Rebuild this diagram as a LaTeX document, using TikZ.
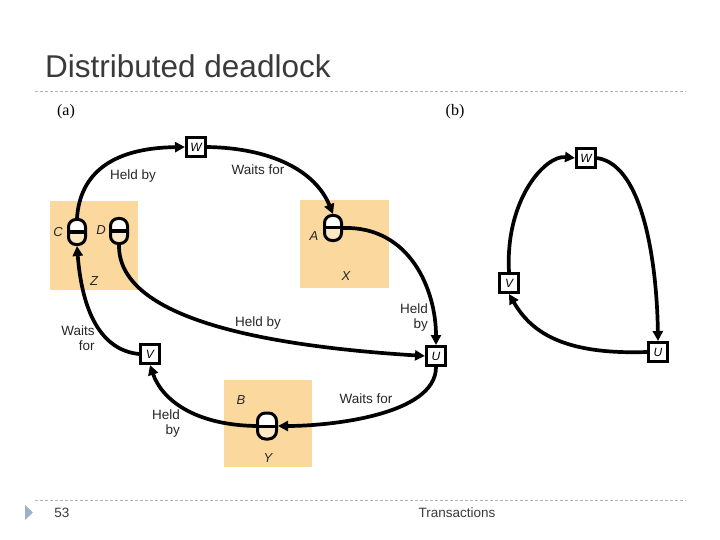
\documentclass[tikz,border=0pt]{standalone}
\usepackage{fontspec}
\setmainfont{Liberation Sans}
\newfontfamily\serifface{Liberation Serif}
\usetikzlibrary{arrows.meta}
\definecolor{boxc}{HTML}{FBD99E}
\definecolor{dashc}{HTML}{B4B4B4}
\definecolor{titlec}{HTML}{3A3A3A}
\definecolor{bulletc}{HTML}{9FB1C9}
\begin{document}
\begin{tikzpicture}[x=1pt,y=-1pt,
  tbox/.style={draw, line width=3pt, fill=white, minimum width=19pt, minimum height=19pt, inner sep=0pt, font=\fontsize{12}{12}\selectfont\itshape},
  lockn/.style={draw, line width=3pt, fill=white, minimum width=17pt, minimum height=25pt, inner sep=0pt, rounded corners=7.5pt,
     path picture={\fill[boxc!60!white] (path picture bounding box.west) rectangle (path picture bounding box.south east);}},
  lbl/.style={font=\fontsize{13.5}{15}\selectfont, text=black!85, inner sep=1pt},
  ital/.style={font=\fontsize{13}{13}\selectfont\itshape, text=black!85, inner sep=1pt},
  conn/.style={line width=3.7pt, -{Triangle[length=10pt,width=10pt]}},
  hdash/.style={dashc, line width=0.8pt, dash pattern=on 3pt off 2pt}]
\useasboundingbox (0,0) rectangle (720,540);
% title
\node[anchor=base west, inner sep=0pt, text=titlec, font=\fontsize{31.5}{32}\selectfont] (title) at (45,78) {Distributed deadlock};
\draw[hdash] (35,91) -- (686,91);
\node[font=\serifface\fontsize{16}{16}\selectfont] (pa) at (66,112) {(a)};
\node[font=\serifface\fontsize{16}{16}\selectfont] (pb) at (455,112) {(b)};
% orange boxes
\fill[boxc] (50,201) rectangle (138,290);
\fill[boxc] (300,200) rectangle (389,288);
\fill[boxc] (224,380) rectangle (312,467);
% locks
\node[lockn] (C) at (77,232) {};
\node[lockn] (D) at (119,231) {};
\node[lockn] (A) at (333,228) {};
\node[lockn, minimum width=19pt, minimum height=26pt, rounded corners=8pt] (Y) at (267,426) {};
\foreach \n in {C,D,A,Y} \draw[line width=3pt] (\n.west) -- (\n.east);
% lock labels
\node[ital] (lC) at (58,232) {C};
\node[ital] (lD) at (101,230) {D};
\node[ital] (lZ) at (94,281) {Z};
\node[ital] (lA) at (314,236) {A};
\node[ital] (lX) at (346,276) {X};
\node[ital] (lB) at (241,400) {B};
\node[ital] (lY) at (268,458) {Y};
% transaction boxes (a)
\node[tbox] (W) at (196,147) {W};
\node[tbox] (V) at (150,354) {V};
\node[tbox] (U) at (436,356) {U};
% transaction boxes (b)
\node[tbox] (Wb) at (586,158) {W};
\node[tbox] (Vb) at (509,283) {V};
\node[tbox] (Ub) at (658,352) {U};
% connectors (a)
\draw[conn] (C.north) .. controls (80,175) and (110,148) .. (W.west);
\draw[conn] (W.east) .. controls (270,148) and (315,170) .. (A.north);
\draw[conn] (A.east) .. controls (410,226) and (436,290) .. (U.north);
\draw[conn] (U.south) .. controls (436,415) and (330,426) .. (Y.east);
\draw[conn] (Y.west) .. controls (195,425) and (162,400) .. (V.south);
\draw[conn] (V.west) .. controls (100,350) and (82,310) .. (C.south);
\draw[conn] (D.south) .. controls (118,315) and (250,345) .. (U.west);
% connectors (b)
\draw[conn] (Vb.north) .. controls (505,200) and (545,155) .. (Wb.west);
\draw[conn] (Wb.east) .. controls (645,165) and (657,270) .. (Ub.north);
\draw[conn] (Ub.west) .. controls (560,355) and (530,330) .. (Vb.south);
% edge labels
\node[lbl] (t1) at (133,176) {Held by};
\node[lbl] (t2) at (258,170) {Waits for};
\node[lbl, align=right] (t3) at (78,338) {Waits\\for};
\node[lbl] (t4) at (258,323) {Held by};
\node[lbl, align=right] (t5) at (414,318) {Held\\by};
\node[lbl, align=right] (t6) at (166,424) {Held\\by};
\node[lbl] (t7) at (366,399) {Waits for};
% footer
\draw[hdash] (35,500) -- (686,500);
\fill[bulletc] (25,505) -- (33,512.5) -- (25,520) -- cycle;
\node[lbl, text=titlec] (pg) at (62,513) {53};
\node[lbl, text=titlec] (ft) at (457,513) {Transactions};
\end{tikzpicture}
\end{document}
